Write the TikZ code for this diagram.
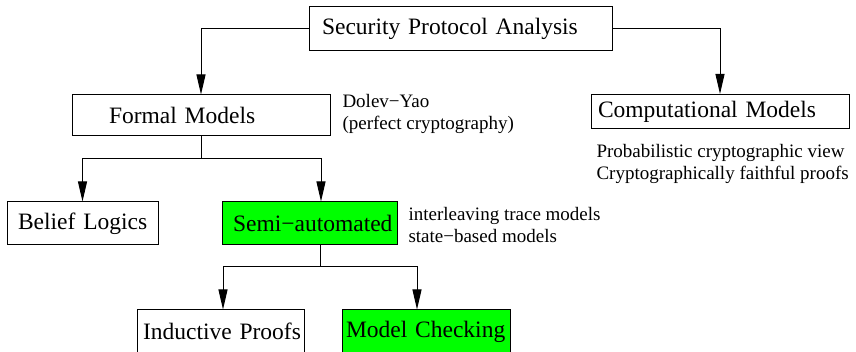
\documentclass[tikz,border=0pt]{standalone}
\usepackage{fontspec}
\setmainfont{Liberation Serif}
\usetikzlibrary{arrows.meta}
\definecolor{semigreen}{RGB}{0,255,0}

\begin{document}
\begin{tikzpicture}
	[x=1pt, y=-1pt, line width=1pt,
	box/.style = {
		draw, inner sep=0pt, minimum height=43pt, align=left,
		font=\fontsize{23.5}{28}\selectfont
	},
	greenbox/.style = {
		box, fill=semigreen
	},
	pad/.style = {
		execute at begin node={\hspace*{#1}}
	},
	note/.style = {
		anchor=north west, align=left, inner sep=0pt,
		font=\fontsize{19}{21.5}\selectfont
	},
	wire/.style = {
		-{Triangle[width=9pt, length=20pt]}
	}]
	\useasboundingbox (0,0) rectangle (856,352);
	\clip (0,0) rectangle (856,352);

	%Draw nodes
	\node[box, pad=13pt, text width=303pt, minimum height=44pt] at (460.5,29) (spa) {Security Protocol Analysis};
	\node[box, pad=37pt, text width=258pt, minimum height=41pt] at (201,115.5) (formal) {Formal Models};
	\node[box, pad=7pt, text width=258pt, minimum height=34pt] at (720,111.5) (comp) {Computational Models};
	\node[box, pad=11pt, text width=151pt] at (82.5,223.5) (belief) {Belief Logics};
	\node[greenbox, pad=11pt, text width=175pt] at (309.5,223.5) (semi) {Semi−automated};
	\node[box, pad=6pt, text width=167pt] at (220.5,331.5) (induct) {Inductive Proofs};
	\node[greenbox, pad=4pt, text width=168pt] at (426,331.5) (mc) {Model Checking};
	\node[note] at (342,94) (dy) {Dolev−Yao\\(perfect cryptography)};
	\node[note] at (596,144) (prob) {Probabilistic cryptographic view\\Cryptographically faithful proofs};
	\node[note] at (408,207) (trace) {interleaving trace models\\state−based models};
	\coordinate (j1) at (201,159);
	\coordinate (j2) at (320,267);

	%Draw wires
	\draw[wire] (spa.west) -| (formal.north);
	\draw[wire] (spa.east) -| (comp.north);
	\draw (formal.south) -- (j1);
	\draw[wire] (j1) -| (belief.north);
	\draw[wire] (j1) -| ([xshift=11.5pt]semi.north);
	\draw ([xshift=10.5pt]semi.south) -- (j2);
	\draw[wire] (j2) -| ([xshift=2.5pt]induct.north);
	\draw[wire] (j2) -| ([xshift=-9pt]mc.north);
\end{tikzpicture}
\end{document}
